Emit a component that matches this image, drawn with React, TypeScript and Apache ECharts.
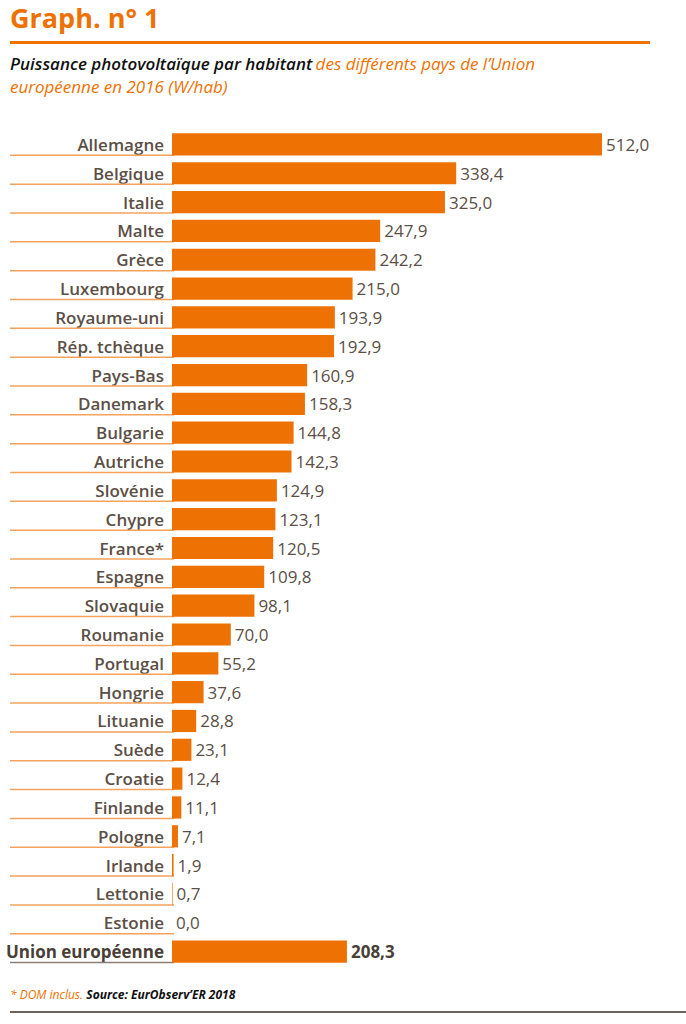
import { useEffect, useRef } from "react";
import * as echarts from "echarts";

const countries = [
  "Allemagne", "Belgique", "Italie", "Malte", "Grèce", "Luxembourg", "Royaume-uni",
  "Rép. tchèque", "Pays-Bas", "Danemark", "Bulgarie", "Autriche", "Slovénie", "Chypre",
  "France*", "Espagne", "Slovaquie", "Roumanie", "Portugal", "Hongrie", "Lituanie",
  "Suède", "Croatie", "Finlande", "Pologne", "Irlande", "Lettonie", "Estonie",
  "Union européenne",
];
const values = [
  512.0, 338.4, 325.0, 247.9, 242.2, 215.0, 193.9, 192.9, 160.9, 158.3, 144.8, 142.3,
  124.9, 123.1, 120.5, 109.8, 98.1, 70.0, 55.2, 37.6, 28.8, 23.1, 12.4, 11.1, 7.1, 1.9,
  0.7, 0.0, 208.3,
];

const ORANGE = "#EE7203";
const TEXT = "#5B4F46";
const FONT = "'Liberation Sans Narrow', 'Open Sans', sans-serif";
const fmt = (v: number) => v.toFixed(1).replace(".", ",");

export default function App() {
  const ref = useRef<HTMLDivElement | null>(null);

  useEffect(() => {
    document.body.style.margin = "0";
    if (!ref.current) return;
    const chart = echarts.init(ref.current, null, { renderer: "svg" });
    const last = countries.length - 1;

    chart.setOption({
      animation: false,
      backgroundColor: "#fff",
      grid: { left: 172, right: 84, top: 130, bottom: 58 },
      xAxis: { type: "value", min: 0, max: 512, show: false },
      yAxis: {
        type: "category",
        inverse: true,
        data: countries,
        axisLine: { show: false },
        axisTick: { show: false },
        axisLabel: {
          margin: 8,
          fontFamily: FONT,
          formatter: (v: string) => (v === "Union européenne" ? `{b|${v}}` : `{n|${v}}`),
          rich: {
            n: { fontSize: 17, fontWeight: 600, color: TEXT, fontFamily: FONT },
            b: { fontSize: 17, fontWeight: 700, color: "#4A3F37", fontFamily: FONT },
          },
        },
      },
      graphic: [
        { type: "text", left: 10, top: 4, style: { text: "Graph. n° 1", fontSize: 27, fontWeight: 700, fill: ORANGE, fontFamily: FONT } },
        { type: "rect", shape: { x: 10, y: 41, width: 640, height: 3 }, style: { fill: ORANGE } },
        {
          type: "text", left: 10, top: 52,
          style: {
            text: "{k|Puissance photovoltaïque par habitant} {o|des différents pays de l’Union}\n{o|européenne en 2016 (W/hab)}",
            lineHeight: 23,
            rich: {
              k: { fontSize: 17, fontStyle: "italic", fontWeight: 600, fill: "#111", fontFamily: FONT },
              o: { fontSize: 17, fontStyle: "italic", fill: ORANGE, fontFamily: FONT },
            },
          },
        },
        {
          type: "text", left: 10, top: 988,
          style: {
            text: "{o|* DOM inclus.} {k|Source: EurObserv’ER 2018}",
            rich: {
              o: { fontSize: 12, fontStyle: "italic", fill: ORANGE, fontFamily: FONT },
              k: { fontSize: 12, fontStyle: "italic", fontWeight: 700, fill: "#111", fontFamily: FONT },
            },
          },
        },
        { type: "rect", shape: { x: 10, y: 1011, width: 676, height: 2 }, style: { fill: "#6E6259" } },
      ],
      series: [
        {
          type: "bar",
          data: values.map((v, i) => ({
            value: v,
            label: i === last ? { fontWeight: 700, color: "#4A3F37" } : undefined,
          })),
          barWidth: "77%",
          itemStyle: { color: ORANGE },
          label: {
            show: true,
            position: "right",
            distance: 4,
            formatter: (p: any) => fmt(p.value),
            fontSize: 17,
            color: TEXT,
            fontFamily: FONT,
          },
          z: 3,
        },
        {
          type: "custom",
          clip: false,
          silent: true,
          data: countries.map((_, i) => [0, i]),
          encode: { x: 0, y: 1 },
          renderItem: (params: any, api: any) => {
            const i = api.value(1);
            const pt = api.coord([0, i]);
            const band = api.size([0, 1])[1];
            const y = pt[1] + band * 0.38;
            return {
              type: "line",
              shape: { x1: 10, y1: y, x2: pt[0] + 2, y2: y },
              style: { stroke: i === last ? "#8A7F77" : "#F4A25C", lineWidth: 1.5 },
            };
          },
          z: 2,
        },
      ],
    });

    return () => chart.dispose();
  }, []);

  return <div ref={ref} style={{ width: 686, height: 1024 }} />;
}
